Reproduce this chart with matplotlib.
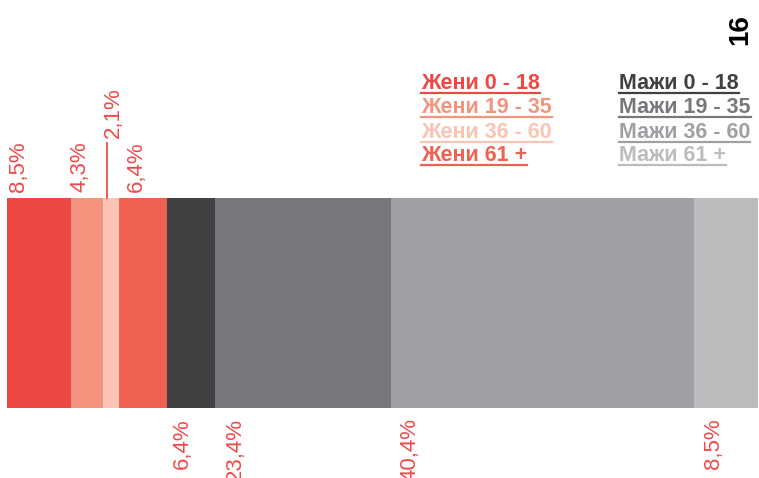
import matplotlib
matplotlib.use("Agg")
import matplotlib.pyplot as plt
from matplotlib.transforms import Affine2D
from matplotlib.lines import Line2D
import numpy as np

# ---- data ----
women_groups = ["Жени 0 - 18", "Жени 19 - 35", "Жени 36 - 60", "Жени 61 +"]
men_groups = ["Мажи 0 - 18", "Мажи 19 - 35", "Мажи 36 - 60", "Мажи 61 +"]
women_values = [8.5, 4.3, 2.1, 6.4]
men_values = [6.4, 23.4, 40.4, 8.5]
women_labels = ["8,5%", "4,3%", "2,1%", "6,4%"]
men_labels = ["6,4%", "23,4%", "40,4%", "8,5%"]
page_number = "16"

# ---- style ----
women_colors = ["#ee4845", "#f4937e", "#f9c4b4", "#f06152"]
men_colors = ["#414042", "#77787b", "#9fa0a3", "#bbbcbe"]
label_color = "#ef4a47"
W, H = 759, 478
FONT = "Liberation Sans"

fig = plt.figure(figsize=(W / 100, H / 100), dpi=100)
ax = fig.add_axes([0, 0, 1, 1])
ax.set_axis_off()
px_per_pct = 751 / 100.0
ax.set_xlim(-7 / px_per_pct, (W - 7) / px_per_pct)
ax.set_ylim(H, 0)

values = women_values + men_values
colors = women_colors + men_colors
lefts = np.concatenate([[0], np.cumsum(values)[:-1]])
bar_top, bar_bottom = 198, 408
ax.barh((bar_top + bar_bottom) / 2, values, left=lefts, height=bar_bottom - bar_top,
        color=colors, linewidth=0)

txt_kw = dict(fontsize=16, family=FONT, color=label_color, rotation=90,
              textcoords="offset pixels")

# top labels (women)
top_dx = [11, 9, 10, 17]
top_dy = [6, 6, 60, 6]
for i, lab in enumerate(women_labels):
    ax.annotate(lab, xy=(lefts[i], bar_top), xytext=(top_dx[i], top_dy[i]),
                ha="center", va="bottom", **txt_kw)
# leader line for small segment
lx = lefts[2] + 4 / px_per_pct
ax.plot([lx, lx], [143, bar_top], color=label_color, lw=1.3)

# bottom labels (men)
bot_dx = [15, 20, 19, 19]
for i, lab in enumerate(men_labels):
    ax.annotate(lab, xy=(lefts[4 + i], bar_bottom), xytext=(bot_dx[i], -10),
                ha="center", va="top", **txt_kw)

# legend (underlined text)
pix = Affine2D().scale(1, -1).translate(0, H)
rows_y = [89, 113, 138, 161]
legend_texts = []
for col_x, names, cols in [(421, women_groups, women_colors), (619, men_groups, men_colors)]:
    for y, name, c in zip(rows_y, names, cols):
        t = fig.text(col_x, y, name, transform=pix, fontsize=15.5, family=FONT,
                     fontweight="bold", color=c, ha="left", va="baseline")
        legend_texts.append((t, y, c))

fig.text(740, 30, page_number, transform=pix, fontsize=20, family=FONT,
         fontweight="bold", color="black", rotation=90, ha="center", va="center")

fig.canvas.draw()
renderer = fig.canvas.get_renderer()
for t, y, c in legend_texts:
    bb = t.get_window_extent(renderer)
    uy = H - (y + 3.5)
    fig.add_artist(Line2D([bb.x0, bb.x1], [uy, uy], transform=None, color=c, lw=1.6))

fig.savefig("out.png", dpi=100)
